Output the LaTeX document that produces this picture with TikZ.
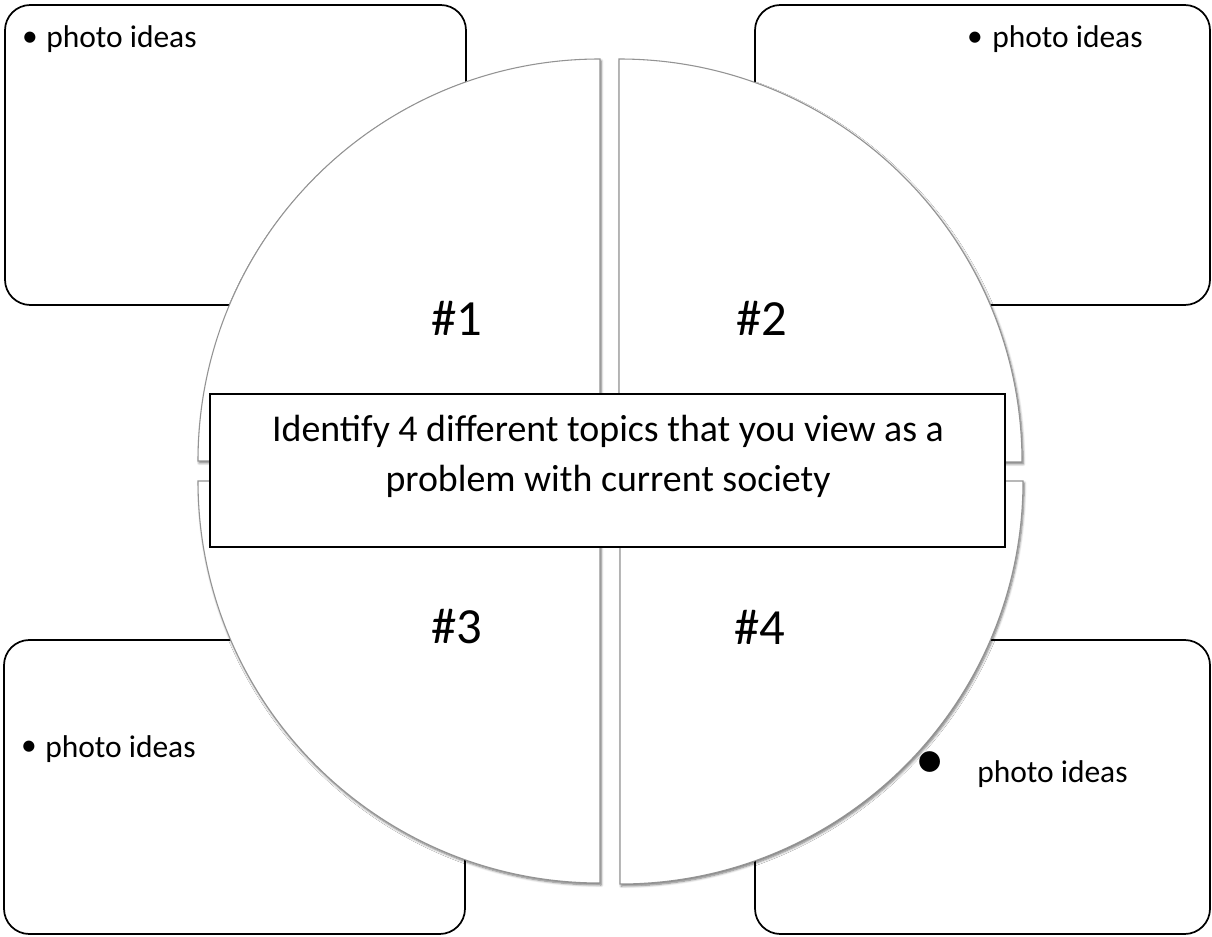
\documentclass[tikz,border=0pt]{standalone}
\usepackage{fontspec}
\setmainfont{Carlito}
\usetikzlibrary{shadows.blur}
\begin{document}
\begin{tikzpicture}[x=0.75pt,y=0.75pt,
  pbox/.style={draw=black, line width=1.3pt, fill=white, rounded corners=19pt},
  sector/.style={draw=gray!85, line width=0.8pt, fill=white,
    blur shadow={shadow xshift=0.9pt, shadow yshift=-1.5pt, shadow blur radius=1.8pt, shadow blur steps=6, shadow opacity=55}},
  mainbox/.style={draw=black, line width=1.4pt, fill=white},
  numlabel/.style={font=\fontsize{38}{44}\selectfont, inner sep=0pt},
  idea/.style={font=\fontsize{23.6}{28}\selectfont, anchor=base west, inner sep=0pt},
  dot/.style={font=\fontsize{23.6}{28}\selectfont, inner sep=0pt},
  bigdot/.style={font=\fontsize{44}{50}\selectfont, inner sep=0pt},
]
\useasboundingbox (0,0) rectangle (1212,936);
% corner boxes
\draw[pbox] (5,631) rectangle (466,931);
\draw[pbox] (755,631) rectangle (1210,931);
\draw[pbox] (4,2) rectangle (465,296);
\draw[pbox] (755,2) rectangle (1210,296);
% quarter sectors
\draw[sector] (600,475) -- (600,877) arc[start angle=90, end angle=180, radius=301.5pt] -- cycle;
\draw[sector] (619,474) -- (619+403,474) arc[start angle=0, end angle=90, radius=302.25pt] -- cycle;
\draw[sector] (600,455) -- (198,455) arc[start angle=180, end angle=270, radius=301.5pt] -- cycle;
\draw[sector] (620,455) -- (620,52) arc[start angle=270, end angle=360, radius=302.25pt] -- cycle;
% number labels
\node[numlabel] (n1) at (457,618) {\#1};
\node[numlabel] (n2) at (762,618) {\#2};
\node[numlabel] (n3) at (457,309) {\#3};
\node[numlabel] (n4) at (760,309) {\#4};
% photo ideas
\node[dot] (d1) at (30,897) {•};
\node[idea] (t1) at (46,888) {photo ideas};
\node[dot] (d2) at (975,897) {•};
\node[idea] (t2) at (992,888) {photo ideas};
\node[dot] (d3) at (29,188) {•};
\node[idea] (t3) at (45,179) {photo ideas};
\node[bigdot] (d4) at (930,171) {•};
\node[idea] (t4) at (977,154) {photo ideas};
% central box
\draw[mainbox] (210,389) rectangle (1005,542);
\node[font=\fontsize{28.4}{37.5}\selectfont, align=center, inner sep=0pt] (task) at (608,480)
  {Identify 4 different topics that you view as a\\problem with current society};
\end{tikzpicture}
\end{document}
